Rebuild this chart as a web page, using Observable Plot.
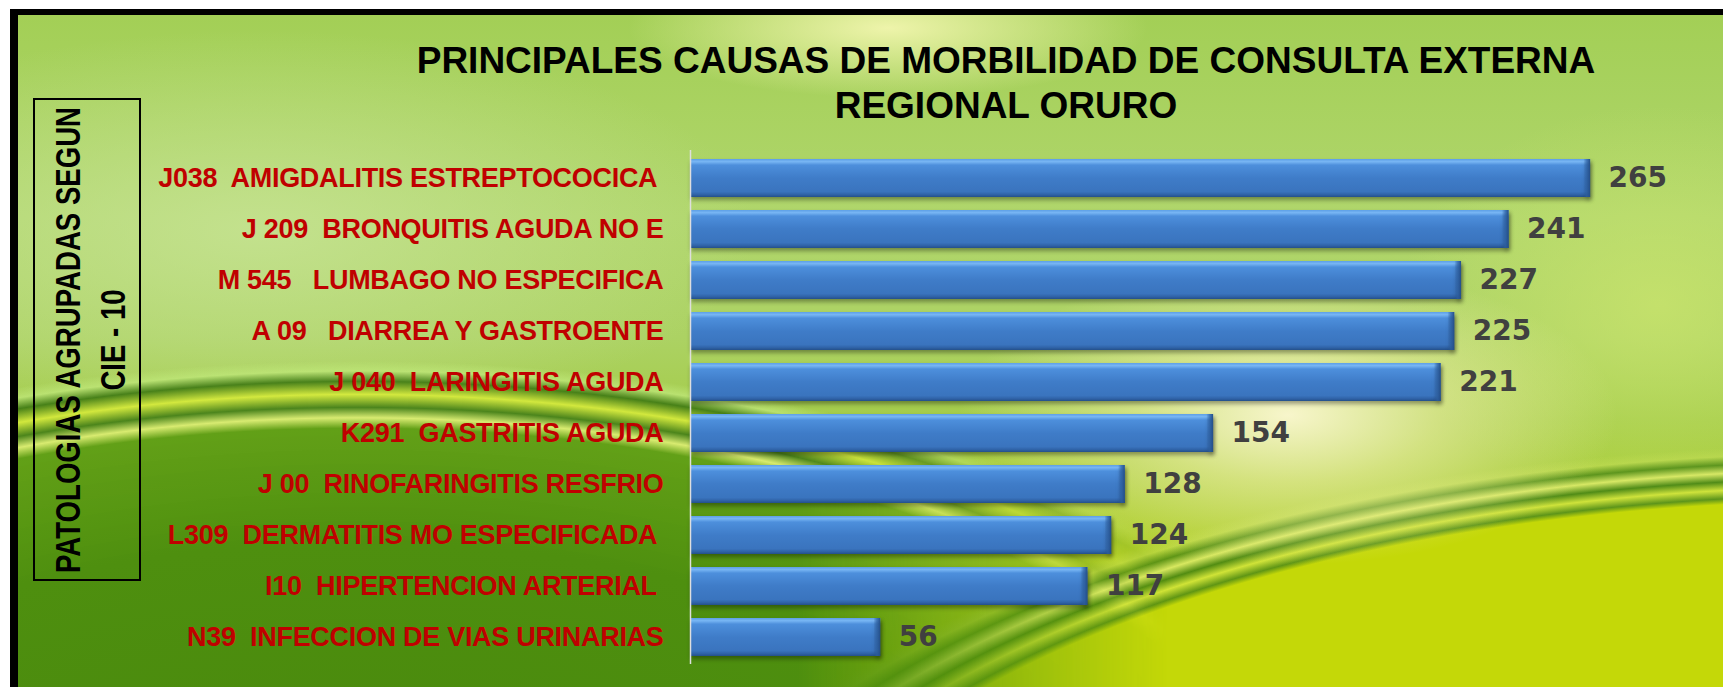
<!DOCTYPE html>
<html><head><meta charset="utf-8">
<script src="https://cdn.jsdelivr.net/npm/d3@7"></script>
<script src="https://cdn.jsdelivr.net/npm/@observablehq/plot@0.6"></script>
<style>
html,body{margin:0;padding:0;background:#fff;}
#chart{position:relative;width:1723px;height:687px;overflow:hidden;background:#fff;font-family:"Liberation Sans",Arial,sans-serif;}
#bg{position:absolute;left:10px;top:9px;right:0;bottom:0;border-top:6px solid #000;border-left:8px solid #000;overflow:hidden;
background:
 radial-gradient(ellipse 260px 70px at 870px 13px, rgba(242,246,175,0.95), rgba(242,246,175,0) 100%),
 radial-gradient(ellipse 500px 200px at 240px 215px, rgba(200,228,150,0.8) 0%, rgba(200,228,150,0) 100%),
 radial-gradient(ellipse 260px 200px at 1640px 290px, rgba(205,230,110,0.7) 0%, rgba(205,230,110,0) 100%),
 linear-gradient(180deg, #a3cf56 0%, #b0d66c 30%, #acd263 48%, #a4cc4a 60%, #b4d020 85%, #c6da04 100%);}
.layer{position:absolute;left:0;top:0;right:0;bottom:0;}
#waveL{
 background: radial-gradient(ellipse 1100px 520px at 340px 850px, rgba(72,136,12,1) 0%, rgba(78,143,15,1) 62%, rgba(96,158,22,0.97) 84%, rgba(225,240,120,0.85) 86%, rgba(60,120,20,0.85) 88%, rgba(215,235,60,0.9) 90.5%, rgba(55,115,15,0.85) 93%, rgba(190,230,120,0.8) 95%, rgba(190,230,120,0) 97%);
 -webkit-mask-image: linear-gradient(90deg, #000 0px, #000 780px, rgba(0,0,0,0.55) 950px, rgba(0,0,0,0) 1150px);
 mask-image: linear-gradient(90deg, #000 0px, #000 780px, rgba(0,0,0,0.55) 950px, rgba(0,0,0,0) 1150px);}
#glow{background: radial-gradient(ellipse 330px 150px at 1270px 400px, rgba(252,248,210,0.95) 0%, rgba(240,240,170,0.6) 45%, rgba(240,240,170,0) 100%);}
#waveR{
 background: radial-gradient(ellipse 1250px 560px at 1840px 990px, rgba(196,216,8,1) 0%, rgba(196,216,8,1) 90%, rgba(60,125,15,0.7) 91%, rgba(215,232,60,0.8) 92.5%, rgba(50,118,12,0.75) 94%, rgba(225,238,110,0.8) 95.5%, rgba(60,125,15,0.7) 97%, rgba(200,225,90,0.4) 98.5%, rgba(200,225,90,0) 100%);}
#title{position:absolute;left:1006px;top:38px;transform:translateX(-50%);white-space:nowrap;text-align:center;font-weight:bold;font-size:37px;line-height:45px;color:#000;}
#ybox{position:absolute;left:33px;top:98px;width:108px;height:483px;border:2px solid #000;box-sizing:border-box;}
#ylab{position:absolute;left:calc(50% + 3px);top:50%;width:483px;transform:translate(-50%,-50%) rotate(-90deg) scale(1,1.3);text-align:center;font-weight:bold;font-size:27.6px;line-height:35px;white-space:nowrap;color:#000;}
#plot{position:absolute;left:0;top:0;}
#plot text{white-space:pre;}
</style></head><body>
<div id="chart">
  <div id="bg"><div class="layer" id="waveR"></div><div class="layer" id="waveL"></div><div class="layer" id="glow"></div></div>
  <div id="title"></div><div id="ybox"><div id="ylab"></div></div><div id="plot"></div>
</div>
<script>
const titleLines = ["PRINCIPALES CAUSAS DE MORBILIDAD DE CONSULTA EXTERNA", "REGIONAL ORURO"];
const axisTitleLines = ["PATOLOGIAS AGRUPADAS SEGUN", "CIE - 10"];
const categories = [
  "J038  AMIGDALITIS ESTREPTOCOCICA ",
  "J 209  BRONQUITIS AGUDA NO E",
  "M 545   LUMBAGO NO ESPECIFICA",
  "A 09   DIARREA Y GASTROENTE",
  "J 040  LARINGITIS AGUDA",
  "K291  GASTRITIS AGUDA",
  "J 00  RINOFARINGITIS RESFRIO",
  "L309  DERMATITIS MO ESPECIFICADA ",
  "I10  HIPERTENCION ARTERIAL ",
  "N39  INFECCION DE VIAS URINARIAS"
];
const values = [265, 241, 227, 225, 221, 154, 128, 124, 117, 56];

document.getElementById("title").innerHTML = titleLines.map(t => `<div>${t}</div>`).join("");
document.getElementById("ylab").innerHTML = axisTitleLines.map(t => `<div>${t}</div>`).join("");

const data = categories.map((c, i) => ({category: c, value: values[i]}));

const plot = Plot.plot({
  width: 1723, height: 687,
  marginLeft: 690, marginRight: 14, marginTop: 144, marginBottom: 15,
  x: {domain: [0, 300], axis: null},
  y: {domain: categories, axis: null, padding: 0.25},
  style: {background: "transparent", overflow: "visible"},
  marks: [
    Plot.barX(data, {x: "value", y: "category", fill: "url(#barGrad)"}),
    Plot.barX(data, {x1: d => d.value - 2, x2: "value", y: "category", fill: "url(#capGrad)"}),
    Plot.ruleX([0], {stroke: "#dedede", strokeWidth: 1.5, insetTop: 6, insetBottom: 8}),
    Plot.text(data, {x: 0, y: "category", text: "category", dx: -27, textAnchor: "end",
      fill: "#c00000", fontSize: 27, fontWeight: "bold", fontFamily: "Liberation Sans"}),
    Plot.text(data, {x: "value", y: "category", text: d => String(d.value), dx: 18, textAnchor: "start",
      fill: "#404040", fontSize: 28, fontWeight: "bold", fontFamily: "DejaVu Sans"})
  ]
});

const ns = "http://www.w3.org/2000/svg";
const defs = document.createElementNS(ns, "defs");
defs.innerHTML = `
<linearGradient id="barGrad" x1="0" y1="0" x2="0" y2="1">
  <stop offset="0" stop-color="#5d9fe6"/>
  <stop offset="0.07" stop-color="#78b6f4"/>
  <stop offset="0.16" stop-color="#4d8fdc"/>
  <stop offset="0.5" stop-color="#3f7cc8"/>
  <stop offset="0.86" stop-color="#3a74be"/>
  <stop offset="0.94" stop-color="#2f62a6"/>
  <stop offset="1" stop-color="#24508a"/>
</linearGradient>
<linearGradient id="capGrad" x1="0" y1="0" x2="1" y2="0">
  <stop offset="0" stop-color="#2d5f9f" stop-opacity="0"/>
  <stop offset="0.5" stop-color="#2f62a4" stop-opacity="0.7"/>
  <stop offset="1" stop-color="#244e88" stop-opacity="1"/>
</linearGradient>`;
plot.prepend(defs);
plot.querySelectorAll('g[aria-label="bar"]').forEach(g => g.style.filter = "drop-shadow(1px 3px 2px rgba(0,0,0,0.35))");
const textGroups = plot.querySelectorAll('g[aria-label="text"]');
if (textGroups[0]) textGroups[0].style.letterSpacing = "-0.3px";
document.getElementById("plot").appendChild(plot);
</script>
</body></html>
